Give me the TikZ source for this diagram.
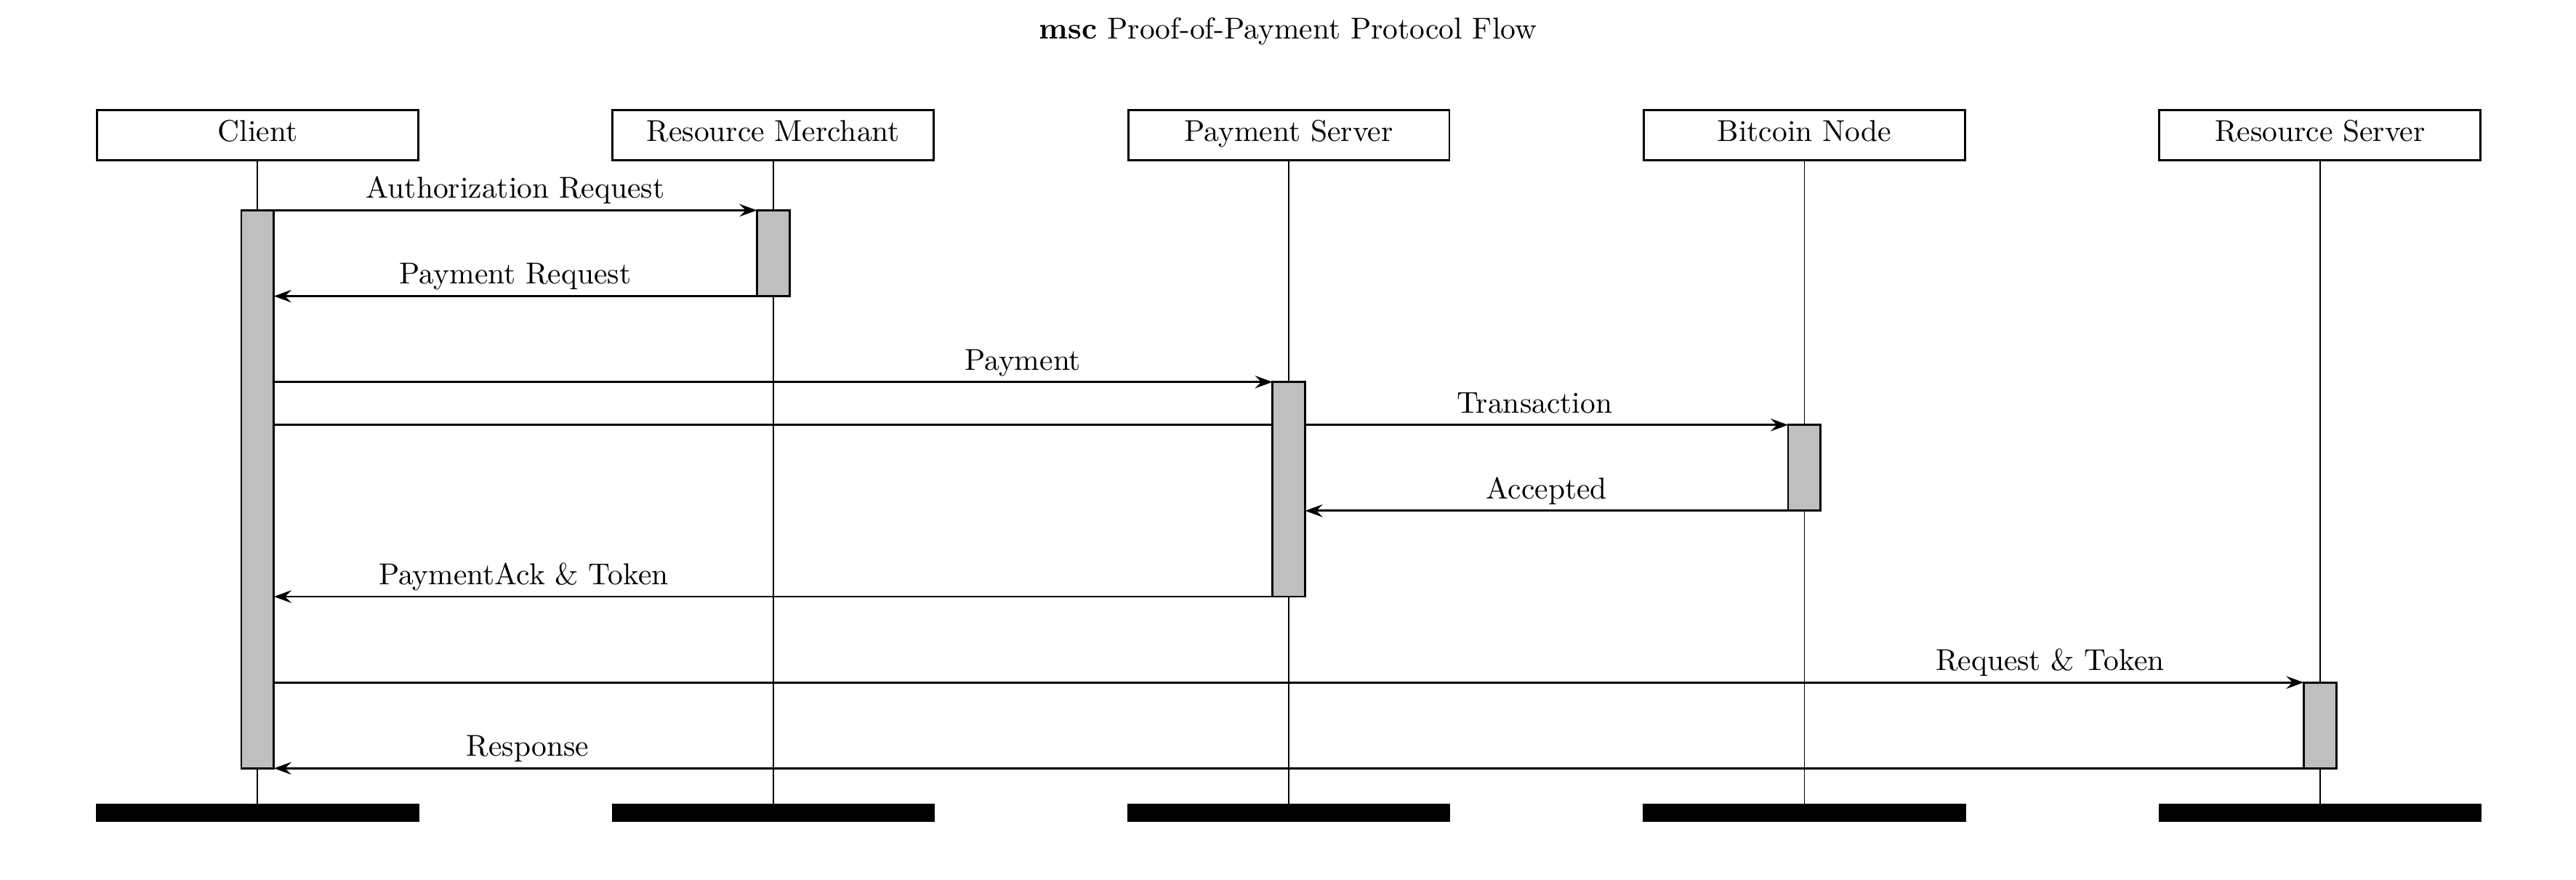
\documentclass[tikz,border=0pt]{standalone}
\usepackage{xcolor}
\usepackage{tikz}
\usetikzlibrary{positioning,arrows.meta}

\tikzset{
  inst/.style={draw, line width=0.7pt, minimum width=3.74cm, minimum height=0.54cm, text height=7pt, text depth=3pt},
  instend/.style={fill=black, inner sep=0pt, outer sep=0pt, minimum width=3.76cm, minimum height=0.21cm},
  life/.style={line width=0.45pt},
  act/.style={draw, line width=0.7pt, fill=black!25, inner sep=0pt, outer sep=0pt, minimum width=0.38cm, anchor=north},
  msg/.style={line width=0.7pt, -{Stealth[length=5.8pt, width=4.2pt, inset=2.1pt]}},
  plain/.style={line width=0.7pt},
  lbl/.style={anchor=base, yshift=4pt}
}

\begin{document}
\begin{tikzpicture}[node distance=2.24cm]
\useasboundingbox (0,0) rectangle (30,-10.25);
\node[anchor=base] (title) at (15,-0.45) {\textbf{msc} Proof-of-Payment Protocol Flow};

\node[inst] (client) at (3,-1.575) {Client};
\node[inst, right=of client] (rm) {Resource Merchant};
\node[inst, right=of rm] (ps) {Payment Server};
\node[inst, right=of ps] (bn) {Bitcoin Node};
\node[inst, right=of bn] (rs) {Resource Server};

\node[instend, below=7.48cm of client] (clientend) {};
\node[instend, below=7.48cm of rm] (rmend) {};
\node[instend, below=7.48cm of ps] (psend) {};
\node[instend, below=7.48cm of bn] (bnend) {};
\node[instend, below=7.48cm of rs] (rsend) {};

\draw[life] (client) -- (clientend);
\draw[life] (rm) -- (rmend);
\draw[life] (ps) -- (psend);
\draw[life] (bn) -- (bnend);
\draw[life] (rs) -- (rsend);

\node[act, minimum height=6.5cm] (aclient) at (client |- 0,-2.45) {};
\node[act, minimum height=1cm] (arm) at (rm |- 0,-2.45) {};
\node[act, minimum height=2.5cm] (aps) at (ps |- 0,-4.45) {};
\node[act, minimum height=1cm] (abn) at (bn |- 0,-4.95) {};
\node[act, minimum height=1cm] (ars) at (rs |- 0,-7.95) {};

\draw[msg] (aclient.north east) -- node[lbl] {Authorization Request} (arm.north west);
\draw[msg] (arm.south west) -- node[lbl] {Payment Request} (aclient.east |- arm.south);
\draw[msg] (aclient.east |- aps.north) -- node[lbl, pos=0.75] {Payment} (aps.north west);
\draw[plain] (aclient.east |- abn.north) -- (aps.west |- abn.north);
\draw[msg] (aps.east |- abn.north) -- node[lbl, pos=0.475] {Transaction} (abn.north west);
\draw[msg] (abn.south west) -- node[lbl] {Accepted} (aps.east |- abn.south);
\draw[msg] (aps.south west) -- node[lbl, pos=0.75] {PaymentAck \& Token} (aclient.east |- aps.south);
\draw[msg] (aclient.east |- ars.north) -- node[lbl, pos=0.875] {Request \& Token} (ars.north west);
\draw[msg] (ars.south west) -- node[lbl, pos=0.875] {Response} (aclient.south east);
\end{tikzpicture}
\end{document}
